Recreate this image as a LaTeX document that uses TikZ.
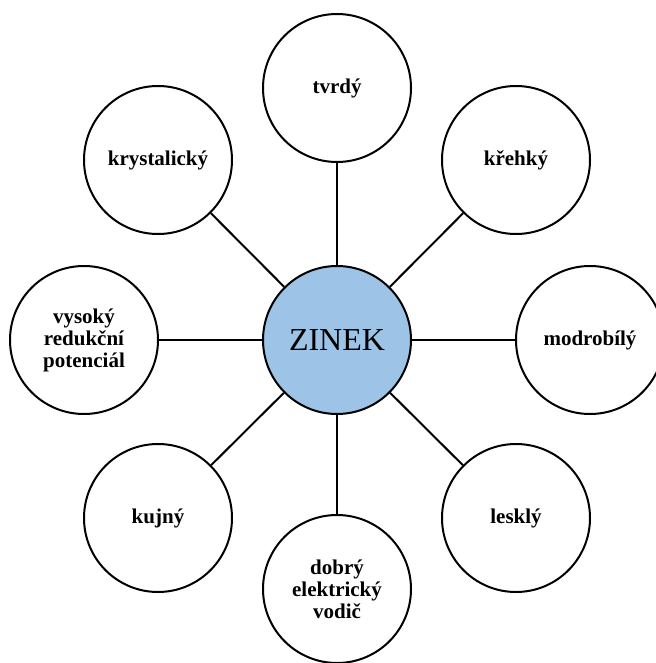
\documentclass[tikz,border=0pt]{standalone}
\usepackage{fontspec}
\setmainfont{Liberation Serif}
\definecolor{zinc}{HTML}{9DC3E6}
\begin{document}
\begin{tikzpicture}[x=1pt,y=-1pt,
  bub/.style={circle,draw=black,line width=2pt,minimum size=148pt,inner sep=0pt,fill=white,
    align=center,font=\bfseries\fontsize{21}{22}\selectfont},
  hub/.style={circle,draw=black,line width=2pt,minimum size=148pt,inner sep=0pt,fill=zinc,
    font=\fontsize{32}{36}\selectfont},
  link/.style={line width=2pt}]
\useasboundingbox (0,0) rectangle (655,663);
\node[hub] (c) at (337,340) {ZINEK};
\node[bub] (t) at (337,88) {tvrdý};
\node[bub] (k) at (516,160) {křehký};
\node[bub] (m) at (590,340) {modrobílý};
\node[bub] (l) at (516,518) {lesklý};
\node[bub] (d) at (337,589) {dobrý\\elektrický\\vodič};
\node[bub] (u) at (158,518) {kujný};
\node[bub] (v) at (84,340) {vysoký\\redukční\\potenciál};
\node[bub] (y) at (158,160) {krystalický};
\foreach \n in {t,k,m,l,d,u,v,y} \draw[link] (c) -- (\n);
\end{tikzpicture}
\end{document}
